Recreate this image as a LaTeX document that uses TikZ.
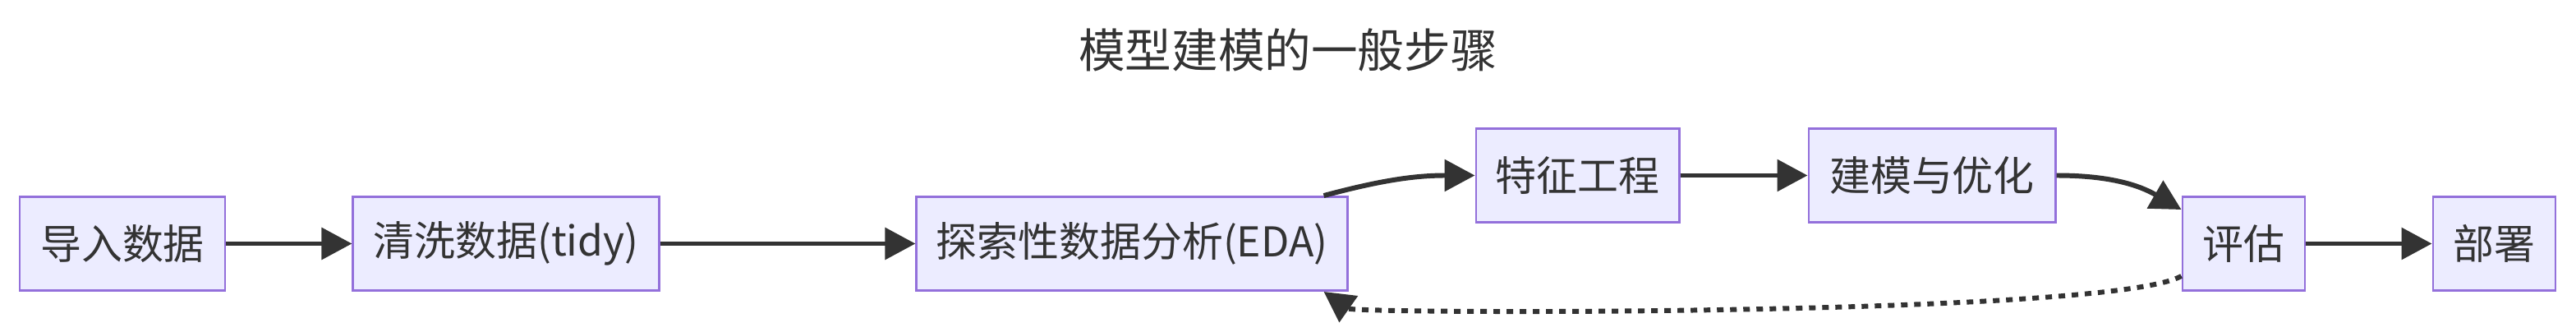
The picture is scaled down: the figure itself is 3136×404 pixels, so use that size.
\documentclass[tikz,border=0pt]{standalone}
\usepackage{fontspec}
\setmainfont{Noto Sans CJK SC}
\usetikzlibrary{arrows.meta}
\definecolor{boxfill}{HTML}{ECECFF}
\definecolor{boxline}{HTML}{9370DB}
\definecolor{ink}{HTML}{333333}
\tikzset{
 stagebox/.style={draw=boxline, fill=boxfill, line width=0.8pt, minimum height=1.14cm, inner sep=0pt, text=ink, font=\fontsize{14.2}{17}\selectfont},
 flow/.style={draw=ink, line width=1.7pt, -{Triangle[length=0.37cm,width=0.38cm]}},
 back/.style={flow, dash pattern=on 0.08cm off 0.08cm}
}
\newcommand{\modelstep}[4]{%
 \node[stagebox, minimum width=#3] ({#1}) at ({#2}) {#4};%
}

\begin{document}
\begin{tikzpicture}[x=0.01cm, y=-0.01cm]
   \useasboundingbox (0,0) rectangle (3136,404);
   \node[text=ink, font=\fontsize{16.1}{20}\selectfont] (title) at (1568,61) {模型建模的一般步骤};
   \modelstep{load}{149,296.5}{2.5cm}{导入数据}
   \modelstep{tidy}{616,296.5}{3.72cm}{清洗数据(tidy)}
   \modelstep{eda}{1378,296.5}{5.24cm}{探索性数据分析(EDA)}
   \modelstep{feat}{1920.5,213.5}{2.47cm}{特征工程}
   \modelstep{model}{2352,213.5}{3cm}{建模与优化}
   \modelstep{eval}{2731.5,296.5}{1.49cm}{评估}
   \modelstep{deploy}{3036.5,296.5}{1.49cm}{部署}
   \draw[flow] (load) -- (tidy);
   \draw[flow] (tidy) -- (eda);
   \draw[flow] ([xshift=-0.3cm]eda.north east) to[out=15,in=180] (feat.west);
   \draw[flow] (feat) -- (model);
   \draw[flow] (model.east) to[out=0,in=150] ([yshift=-0.17cm]eval.north west);
   \draw[flow] (eval) -- (deploy);
   \draw[back] ([yshift=0.19cm]eval.south west) .. controls (2570,385) and (1650,382) .. ([xshift=-0.3cm]eda.south east);
\end{tikzpicture}
\end{document}
